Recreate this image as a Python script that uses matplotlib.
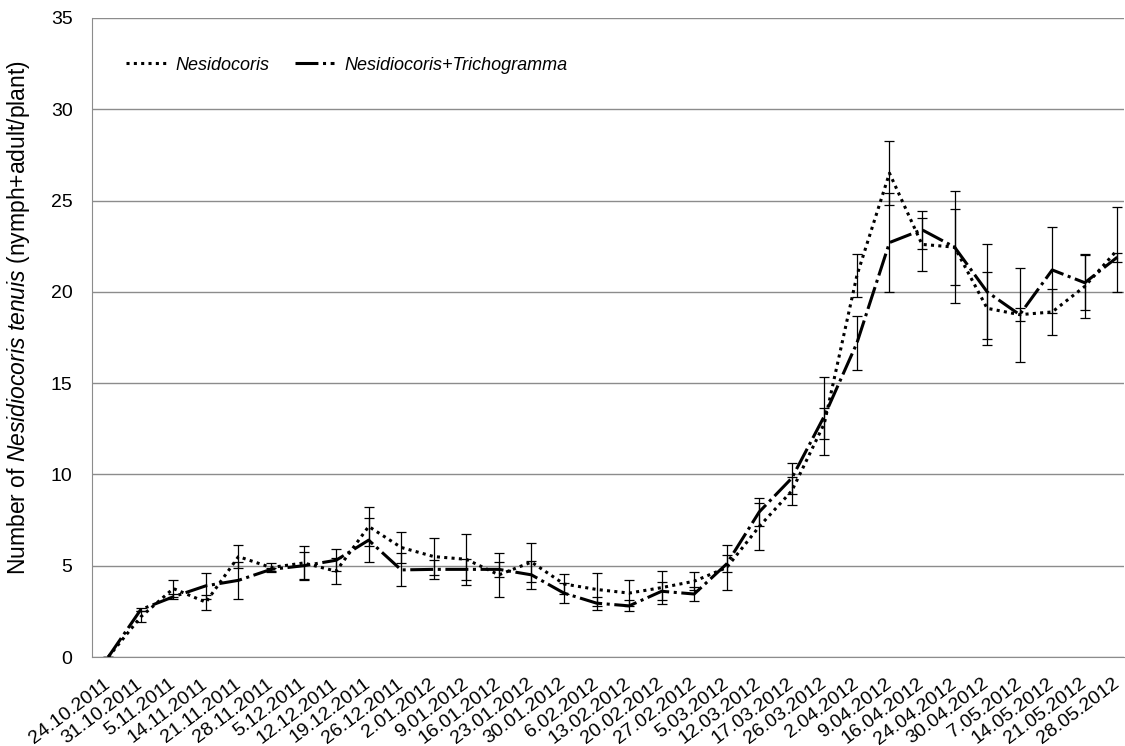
import numpy as np
import matplotlib
matplotlib.use("Agg")
import matplotlib.pyplot as plt

plt.rcParams['font.family'] = ['Liberation Sans', 'DejaVu Sans']
plt.rcParams['mathtext.fontset'] = 'custom'
plt.rcParams['mathtext.it'] = 'Liberation Sans:italic'
plt.rcParams['mathtext.rm'] = 'Liberation Sans'

dates = ['24.10.2011', '31.10.2011', '5.11.2011', '14.11.2011', '21.11.2011', '28.11.2011',
         '5.12.2011', '12.12.2011', '19.12.2011', '26.12.2011', '2.01.2012', '9.01.2012',
         '16.01.2012', '23.01.2012', '30.01.2012', '6.02.2012', '13.02.2012', '20.02.2012',
         '27.02.2012', '5.03.2012', '12.03.2012', '17.03.2012', '26.03.2012', '2.04.2012',
         '9.04.2012', '16.04.2012', '24.04.2012', '30.04.2012', '7.05.2012', '14.05.2012',
         '21.05.2012', '28.05.2012']

# Nesidocoris alone
nes = [0, 2.2, 3.75, 3.0, 5.5, 4.9, 5.15, 4.7, 7.15, 6.0, 5.5, 5.35, 4.5, 5.2, 4.0, 3.7,
       3.5, 3.8, 4.15, 4.9, 7.15, 9.1, 12.8, 20.9, 26.5, 22.6, 22.45, 19.1, 18.75, 18.9,
       20.3, 22.3]
nes_err = [0, 0.3, 0.45, 0.4, 0.65, 0.25, 0.95, 0.7, 1.05, 0.85, 1.0, 1.4, 1.2, 1.07, 0.55,
           0.9, 0.7, 0.9, 0.5, 1.25, 1.3, 0.75, 0.86, 1.2, 1.75, 1.45, 3.07, 2.0, 0.35, 1.25,
           1.75, 2.33]

# Nesidiocoris + Trichogramma
nt = [0, 2.6, 3.3, 3.9, 4.2, 4.8, 5.0, 5.3, 6.4, 4.77, 4.8, 4.8, 4.8, 4.5, 3.5, 2.95,
      2.8, 3.6, 3.45, 5.1, 7.95, 9.8, 13.2, 17.2, 22.7, 23.4, 22.45, 20.0, 18.75, 21.2,
      20.5, 21.9]
nt_err = [0, 0.1, 0.15, 0.7, 1.0, 0.1, 0.75, 0.6, 1.2, 0.9, 0.54, 0.59, 0.4, 0.75, 0.55,
          0.35, 0.3, 0.5, 0.4, 0.46, 0.78, 0.85, 2.15, 1.5, 2.7, 1.03, 2.1, 2.6, 2.57, 2.35,
          1.5, 0.25]

x = np.arange(len(dates))

fig = plt.figure(figsize=(11.25, 7.46), dpi=100)
ax = fig.add_axes([92 / 1125, 89 / 746, 1032 / 1125, 639 / 746])

ax.errorbar(x, nes, yerr=nes_err, fmt='none', ecolor='black', elinewidth=0.9,
            capsize=3.5, capthick=0.9, zorder=2)
ax.errorbar(x, nt, yerr=nt_err, fmt='none', ecolor='black', elinewidth=0.9,
            capsize=3.5, capthick=0.9, zorder=2)

l1, = ax.plot(x, nes, color='black', lw=2.2, linestyle=(0, (1, 1.4)),
              dash_capstyle='butt', zorder=3, label='Nesidocoris')
l2, = ax.plot(x, nt, color='black', lw=2.2, linestyle=(0, (7.5, 1.5, 1, 1.5)),
              dash_capstyle='butt', zorder=3, label='Nesidiocoris+Trichogramma')

ax.set_ylim(0, 35)
ax.set_yticks(np.arange(0, 36, 5))
ax.set_xlim(-0.5, -0.5 + 1032 / 32.55)
ax.set_xticks(x)
ax.set_xticklabels(dates, rotation=37, ha='right', va='center', rotation_mode='anchor',
                   fontsize=14)
ax.tick_params(axis='both', length=0)
ax.tick_params(axis='y', pad=14, labelsize=14)
ax.tick_params(axis='x', pad=18)

ax.grid(axis='y', color='#8c8c8c', linewidth=1)
ax.set_axisbelow(True)
for s in ['top', 'right']:
    ax.spines[s].set_visible(False)
for s in ['left', 'bottom']:
    ax.spines[s].set_color('#8c8c8c')

ax.set_ylabel(r'Number of $\mathit{Nesidiocoris\ tenuis}$ (nymph+adult/plant)', fontsize=16.5)
ax.yaxis.set_label_coords(-0.058, 0.531)

leg = ax.legend(handles=[l1, l2], loc='upper left', bbox_to_anchor=(0.017, 0.965), ncol=2,
                frameon=False, handlelength=2.2, columnspacing=1.4, handletextpad=0.55,
                prop={'style': 'italic', 'size': 13})

fig.savefig('out.png', dpi=100)
